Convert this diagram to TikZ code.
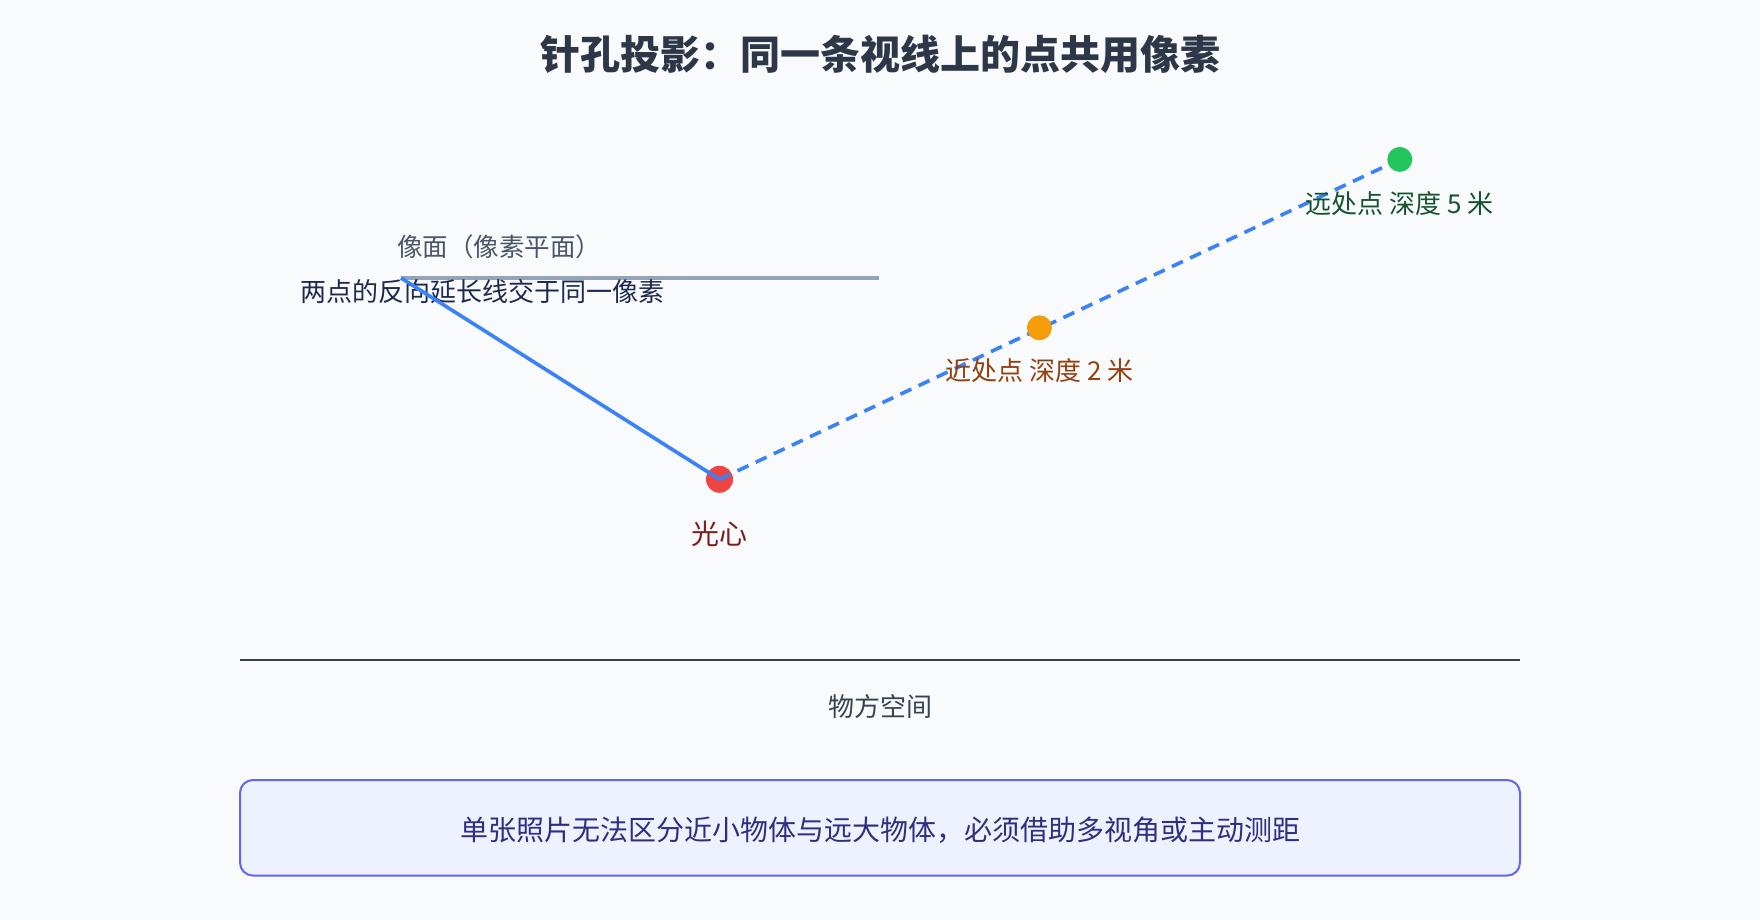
\documentclass[tikz,border=0pt]{standalone}
\usepackage{fontspec}
\setmainfont{Noto Sans CJK SC}
\usepackage{tikz}
\usetikzlibrary{positioning}
\definecolor{bgc}{HTML}{F8FAFC}
\definecolor{titlec}{HTML}{2D3748}
\definecolor{rayc}{HTML}{3B82F6}
\definecolor{planec}{HTML}{94A3B8}
\definecolor{planetxt}{HTML}{4A5568}
\definecolor{groundc}{HTML}{334155}
\definecolor{boxfill}{HTML}{EEF2FF}
\definecolor{boxdraw}{HTML}{6366F1}
\tikzstyle{dot}=[circle, inner sep=0pt, minimum size=25pt]
\tikzstyle{tag}=[inner sep=0pt, font=\fontsize{26}{30}\selectfont]
\tikzstyle{ray}=[draw=rayc, line width=3.6pt]

\begin{document}
\begin{tikzpicture}[x=1pt, y=-1pt]
  \fill[bgc] (0,0) rectangle (1760,920);
  \node[tag, font=\bfseries\fontsize{40}{48}\selectfont, text=titlec] (title) at (880,54) {针孔投影：同一条视线上的点共用像素};
  % image plane
  \coordinate (pix) at (401,278);
  \coordinate (planeR) at (879,278);
  \draw[planec, line width=3.2pt] (pix) -- (planeR);
  \node[tag, font=\fontsize{25.5}{30}\selectfont, text=planetxt] (planelbl) at (499,247) {像面（像素平面）};
  \node[tag, text={rgb,255:red,30;green,41;blue,80}] (hint) at (482,292) {两点的反向延长线交于同一像素};
  % optical center and the two points
  \node[dot, fill={rgb,255:red,239;green,68;blue,68}, minimum size=27pt] (oc) at (719.5,479.3) {};
  \draw[ray] (pix) -- (oc.center);
  \draw[ray, dash pattern=on 12pt off 8pt] (oc.center) -- (1399.8,159.4) coordinate (farc);
  \node[dot, fill={rgb,255:red,245;green,158;blue,11}] (near) at (1039.4,327.8) {};
  \node[dot, fill={rgb,255:red,34;green,197;blue,94}] (far) at (farc) {};
  \node[tag, font=\fontsize{28}{32}\selectfont, text={rgb,255:red,127;green,29;blue,29}] (oclbl) at (719.5,534) {光心};
  \node[tag, text={rgb,255:red,146;green,64;blue,14}] (nearlbl) at (1039.4,370.4) {近处点 深度 2 米};
  \node[tag, text={rgb,255:red,20;green,83;blue,45}] (farlbl) at (1399.8,203.2) {远处点 深度 5 米};
  % object space
  \coordinate (gl) at (240,660);
  \coordinate (gr) at (1520,660);
  \draw[groundc, line width=2.4pt] (gl) -- (gr);
  \node[tag, text={rgb,255:red,55;green,65;blue,81}] (space) at (880,707) {物方空间};
  \draw[boxdraw, fill=boxfill, line width=2pt, rounded corners=13pt] (240,780) rectangle (1520,875.6);
  \node[tag, font=\fontsize{28}{32}\selectfont, text={rgb,255:red,49;green,46;blue,129}] (note) at (880,830.6) {单张照片无法区分近小物体与远大物体，必须借助多视角或主动测距};
\end{tikzpicture}
\end{document}
